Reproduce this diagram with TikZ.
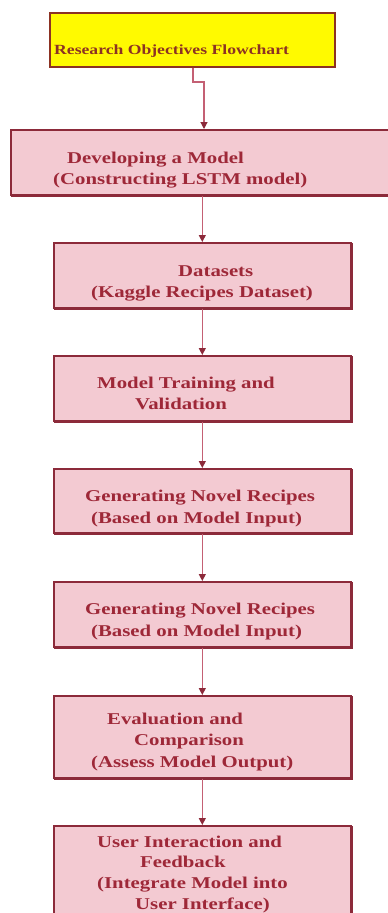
\documentclass[tikz,border=0pt]{standalone}
\usepackage{fontspec}
\setmainfont{Liberation Serif}[FakeStretch=1.26]
\usetikzlibrary{arrows.meta,shadows}
\definecolor{boxfill}{RGB}{243,202,210}
\definecolor{boxline}{RGB}{140,42,58}
\definecolor{txt}{RGB}{158,40,56}
\definecolor{ytxt}{RGB}{140,50,35}
\definecolor{yfill}{RGB}{255,250,0}
\definecolor{conn}{RGB}{196,96,116}
\begin{document}
\begin{tikzpicture}[x=1pt,y=-1pt,
  box/.style={draw=boxline,fill=boxfill,line width=1.6pt,anchor=north west,inner sep=0,
    copy shadow={shadow xshift=1.3pt,shadow yshift=-1.3pt,fill=boxline,draw=boxline}},
  ybox/.style={draw=ytxt,fill=yfill,line width=1.6pt,anchor=north west,inner sep=0},
  ln/.style={anchor=base west,inner sep=0,text=txt,font=\bfseries\fontsize{16.5}{21}\selectfont},
  yln/.style={anchor=base west,inner sep=0,text=ytxt,font=\bfseries\fontsize{14}{16}\selectfont},
  arr/.style={draw=conn,line width=1.1pt,-{Triangle[width=7pt,length=7pt,color=boxline]}}]
\useasboundingbox (0,0) rectangle (388,913);
\fill[white] (0,0) rectangle (388,913);
% boxes
\node[ybox,minimum width=285,minimum height=54] (y1) at (49,12) {};
\node[box,minimum width=390,minimum height=65] (b2) at (10,129) {};
\node[box,minimum width=297,minimum height=65] (b3) at (53,242) {};
\node[box,minimum width=297,minimum height=65] (b4) at (53,355) {};
\node[box,minimum width=297,minimum height=64] (b5) at (53,468) {};
\node[box,minimum width=297,minimum height=65] (b6) at (53,581) {};
\node[box,minimum width=297,minimum height=82] (b7) at (53,695) {};
\node[box,minimum width=297,minimum height=115] (b8) at (53,825) {};
% texts
\node[yln] (t1) at (54,54) {Research Objectives Flowchart};
\node[ln] (t2a) at (67,163) {Developing a Model};
\node[ln] (t2b) at (53,184) {(Constructing LSTM model)};
\node[ln] (t3a) at (178,276) {Datasets};
\node[ln] (t3b) at (91,297) {(Kaggle Recipes Dataset)};
\node[ln] (t4a) at (97,388) {Model Training and};
\node[ln] (t4b) at (135,409) {Validation};
\node[ln] (t5a) at (85,501) {Generating Novel Recipes};
\node[ln] (t5b) at (91,523) {(Based on Model Input)};
\node[ln] (t6a) at (85,614) {Generating Novel Recipes};
\node[ln] (t6b) at (91,636) {(Based on Model Input)};
\node[ln] (t7a) at (107,724) {Evaluation and};
\node[ln] (t7b) at (134,745) {Comparison};
\node[ln] (t7c) at (91,767) {(Assess Model Output)};
\node[ln] (t8a) at (97,847) {User Interaction and};
\node[ln] (t8b) at (140,867) {Feedback};
\node[ln] (t8c) at (97,888) {(Integrate Model into};
\node[ln] (t8d) at (135,909) {User Interface)};
% connectors
\coordinate (k1) at (193,82);
\coordinate (k2) at (204,82);
\draw[arr] (k1 |- y1.south) -- (k1) -- (k2) -- (k2 |- b2.north);
\draw[arr] (b3.north |- b2.south) -- (b3.north);
\draw[arr] (b3.south) -- (b4.north);
\draw[arr] (b4.south) -- (b5.north);
\draw[arr] (b5.south) -- (b6.north);
\draw[arr] (b6.south) -- (b7.north);
\draw[arr] (b7.south) -- (b8.north);
\end{tikzpicture}
\end{document}
